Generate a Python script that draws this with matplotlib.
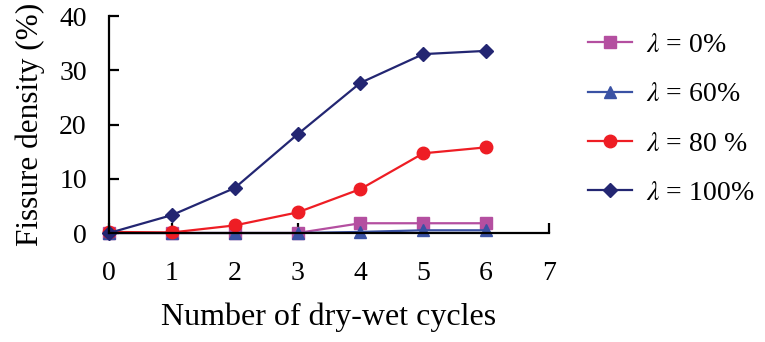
import matplotlib
matplotlib.use('Agg')
import matplotlib.pyplot as plt

plt.rcParams['font.family'] = ['Liberation Serif', 'DejaVu Serif']
plt.rcParams['mathtext.fontset'] = 'stix'

cycles = [0, 1, 2, 3, 4, 5, 6]
lam_0 = [0, 0, 0, 0, 1.8, 1.8, 1.8]
lam_60 = [0, 0, 0, 0, 0.2, 0.5, 0.5]
lam_80 = [0.2, 0.1, 1.4, 3.8, 8.1, 14.7, 15.8]
lam_100 = [0, 3.3, 8.3, 18.2, 27.7, 33.0, 33.6]
labels = [r'$\lambda$ = 0%', r'$\lambda$ = 60%', r'$\lambda$ = 80 %', r'$\lambda$ = 100%']

fig = plt.figure(figsize=(7.65, 3.42), dpi=100)
ax = fig.add_axes([0.1425, 0.3187, 0.575, 0.634])

ax.plot(cycles, lam_0, color='#B44FA0', marker='s', ms=8, lw=1.6, label=labels[0], clip_on=False)
ax.plot(cycles, lam_60, color='#3A52A4', marker='^', ms=9, lw=1.6, label=labels[1], clip_on=False)
ax.plot(cycles, lam_80, color='#EE1D24', marker='o', ms=9, lw=1.6, label=labels[2], clip_on=False)
ax.plot(cycles, lam_100, color='#232672', marker='D', ms=7, lw=1.6, label=labels[3], clip_on=False)

ax.set_xlim(0, 7)
ax.set_ylim(0, 40)
ax.set_xticks(range(8))
ax.set_yticks([0, 10, 20, 30, 40])
for s in ['top', 'right']:
    ax.spines[s].set_visible(False)
for s in ['left', 'bottom']:
    ax.spines[s].set_linewidth(1.6)
ax.tick_params(direction='in', length=7, width=1.6, labelsize=20)
ax.tick_params(axis='x', pad=20)
ax.tick_params(axis='y', pad=16)

ax.set_xlabel('Number of dry-wet cycles', fontsize=23, labelpad=12)
ax.set_ylabel('Fissure density (%)', fontsize=22.5, labelpad=10)

fig.legend(loc='upper left', bbox_to_anchor=(0.768, 0.905), frameon=False,
           fontsize=20, handlelength=1.6, labelspacing=0.86, handletextpad=0.5,
           borderpad=0, borderaxespad=0)

fig.savefig('out.png', dpi=100)
